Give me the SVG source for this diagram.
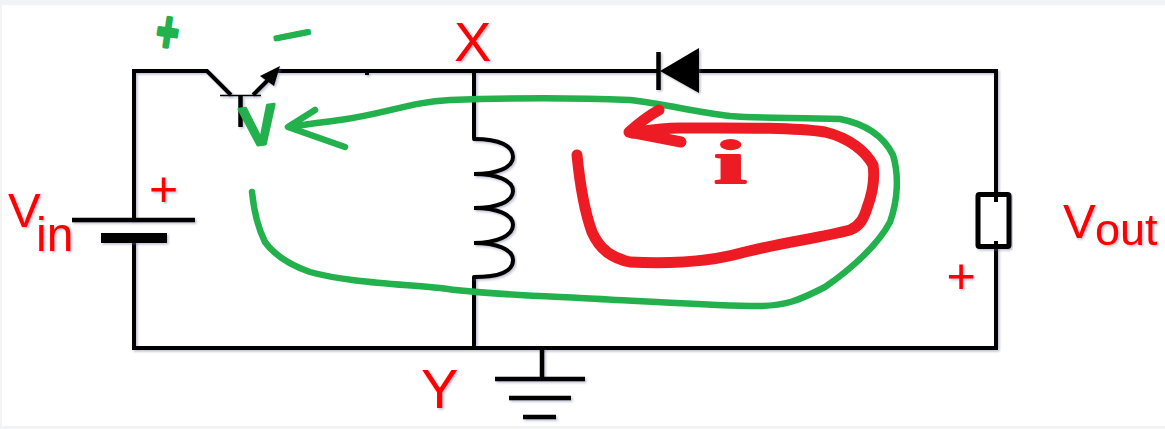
<svg xmlns="http://www.w3.org/2000/svg" width="1165" height="429" viewBox="0 0 1165 429">
<style>
.w{fill:none;stroke:#000;stroke-width:4;stroke-linejoin:miter}
.t{font-family:"Liberation Sans",Arial,sans-serif;fill:#f00}
.g{font-family:"Liberation Sans",Arial,sans-serif;fill:#22b14c;stroke:#22b14c;stroke-linejoin:round;stroke-linecap:round}
.r{font-family:"Liberation Serif","Times New Roman",serif;fill:#ed1c24;stroke:#ed1c24;stroke-linejoin:round;stroke-linecap:round}
.ig{fill:none;stroke:#22b14c;stroke-width:6.500;stroke-linecap:round;stroke-linejoin:round}
.ir{fill:none;stroke:#ed1c24;stroke-width:11;stroke-linecap:round;stroke-linejoin:round}
</style>
<defs>
<filter id="s" x="-10%" y="-10%" width="120%" height="120%" color-interpolation-filters="sRGB">
<feDropShadow dx="1.500" dy="1.500" stdDeviation="1.200" flood-color="#6a6f9a" flood-opacity="0.45"/>
</filter>
</defs>
<rect width="1165" height="429" fill="#fff"/>
<path d="M0 0H1165V5H2V426H1165V429H0Z" fill="#f2f3f5"/>
<g id="connectors" filter="url(#s)">
<path class="w" d="M134 220V71H207L231 95"/>
<path class="w" d="M134 238V348H996V247"/>
<path class="w" d="M278 71H658M699 71H996V195"/>
<path class="w" d="M474 71V138M474 277V348"/>
<path d="M365 71h4v4h-4z" fill="#000"/>
</g>
<g id="transistor" filter="url(#s)">
<path d="M220 95.500H261" fill="none" stroke="#000" stroke-width="1.500"/>
<path d="M240.500 95V127" fill="none" stroke="#000" stroke-width="4.500"/>
<path d="M253 95L270 78" fill="none" stroke="#000" stroke-width="4"/>
<path d="M280 66L274 86L260 76Z" fill="#000"/>
</g>
<g id="diode" filter="url(#s)">
<path d="M658.500 52V90" fill="none" stroke="#000" stroke-width="4.500"/>
<path d="M660 71L699 48V93Z" fill="#000"/>
</g>
<g id="inductor" filter="url(#s)">
<path class="w" d="M474 139C500 139 513 146 513 157C513 168 496 174 474 174C496 174 513 180 513 191C513 202 496 208 474 208C496 208 513 214 513 225C513 236 496 243 474 243C496 243 513 249 513 260C513 271 500 277 474 277" stroke-width="4.500" stroke-linecap="round"/>
</g>
<g id="battery" filter="url(#s)">
<path d="M72 220H195" fill="none" stroke="#000" stroke-width="4.500"/>
<path d="M101 233H167V243H101Z" fill="#000"/>
</g>
<g id="resistor" filter="url(#s)">
<rect x="978" y="194.500" width="31" height="52" rx="1.500" fill="#fff" stroke="#000" stroke-width="5"/>
<path d="M996 195V202M996 241V247" fill="none" stroke="#000" stroke-width="4"/>
</g>
<g id="ground" filter="url(#s)">
<path d="M542 348V379M495 379H585M509 398H571M523 417H556" fill="none" stroke="#000" stroke-width="4.500"/>
</g>
<g id="labels" filter="url(#s)">
<text class="t" x="454" y="61" font-size="56">X</text>
<text class="t" x="421" y="408" font-size="56">Y</text>
<text class="t" x="8" y="227" font-size="49">V</text>
<text class="t" x="36" y="251" font-size="48">in</text>
<text class="t" x="1063" y="238" font-size="49">V</text>
<text class="t" x="1095" y="245" font-size="45">out</text>
<text class="t" x="163.500" y="206" font-size="50" text-anchor="middle">+</text>
<text class="t" x="961" y="293" font-size="50" text-anchor="middle">+</text>
</g>
<g id="annotation-green">
<path class="ig" d="M252 192C254 212 258 228 265 242C275 256 290 265 310 272C345 282 400 284 440 288C480 294 540 296 580 298C640 301 700 305 750 306C785 307 800 300 825 287C850 270 878 245 890 222C898 200 899 175 893 155C884 137 866 124 840 119C800 117 765 119 730 116C695 112 665 104 630 100C580 98 510 98 450 100C410 102 385 114 340 120C325 122 305 124 290 127"/>
<path class="ig" d="M315 110L288 127L345 147"/>
<text class="g" x="0" y="0" font-size="72" stroke-width="3" transform="translate(244 147) rotate(-8)">v</text>
<text class="g" x="0" y="0" font-size="38" font-weight="bold" stroke-width="2.500" text-anchor="middle" transform="translate(165 51) rotate(8) scale(1 1.500)">+</text>
<text class="g" x="0" y="0" font-size="30" font-weight="bold" stroke-width="3" text-anchor="middle" transform="translate(294 45) rotate(-11) scale(2.100 1)">−</text>
</g>
<g id="annotation-red">
<path class="ir" d="M577 155C580 185 584 210 592 232C600 250 612 258 630 262C670 264 710 262 745 252C785 242 820 238 850 230C860 226 864 218 867 208C873 192 875 178 873 165C866 152 850 138 825 132C790 127 730 128 680 128C660 128 645 131 632 133"/>
<path class="ir" d="M659 110C648 116 638 124 629 132L645 135L681 142"/>
<text class="r" x="0" y="0" font-size="62" font-weight="bold" stroke-width="2" transform="translate(714 183) scale(1.900 1)">i</text>
</g>
</svg>
